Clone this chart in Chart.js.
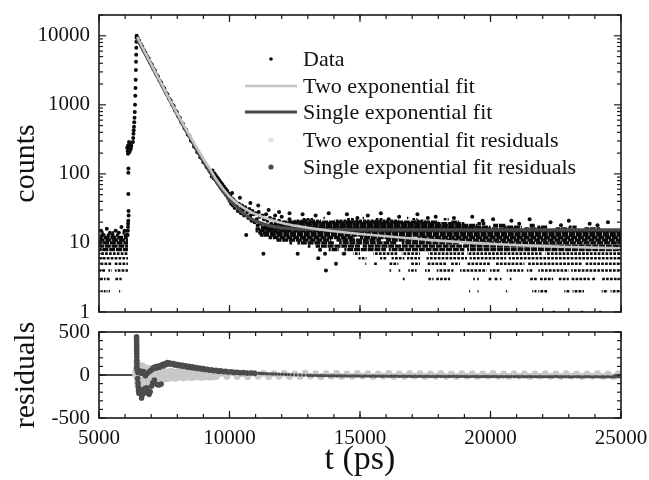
<!DOCTYPE html>
<html><head><meta charset="utf-8">
<script src="https://cdn.jsdelivr.net/npm/chart.js@4/dist/chart.umd.min.js"></script>
<style>
html,body{margin:0;padding:0;background:#fff;}
#wrap{position:relative;width:649px;height:480px;background:#fff;overflow:hidden;}
#top{position:absolute;left:0;top:0;}
#bot{position:absolute;left:0;top:316px;}
</style></head><body>
<div id="wrap"><canvas id="top" width="649" height="330"></canvas><canvas id="bot" width="649" height="164"></canvas></div>
<script>
// ---------- tick values / labels ----------
const timeTickValues = [5000, 10000, 15000, 20000, 25000];
const timeTickLabels = ['5000', '10000', '15000', '20000', '25000'];
const countTickValues = [1, 10, 100, 1000, 10000];
const countTickLabels = ['1', '10', '100', '1000', '10000'];
const residualTickValues = [-500, 0, 500];
const residualTickLabels = ['-500', '0', '500'];
const legendLabels = ['Data', 'Two exponential fit', 'Single exponential fit',
  'Two exponential fit residuals', 'Single exponential fit residuals'];

// ---------- measured data: [t (ps), counts] ----------
const risePoints = [[6100,13],[6105,15],[6110,17],[6115,19],[6120,21],[6124,51],[6124,104],[6126,120],[6130,29],[6135,25],
 [6080,240],[6100,215],[6110,195],[6120,260],[6140,230],[6150,290],[6160,205],[6180,250],[6190,220],[6200,275],[6220,235],[6240,255],
 [6300,290],[6310,330],[6320,380],[6330,430],[6340,480],[6350,560],[6360,650],[6370,790],[6380,1000],[6390,1350],[6398,1760],
 [6405,2300],[6412,3200],[6418,4200],[6424,5300],[6429,6700],[6434,8200],[6438,9350],[6442,10000]];
const decayPoints = [[6480,9300],[6540,8500],[6600,7550],[6660,6950],[6720,6180],[6780,5700],[6840,5050],[6900,4700],[6960,4120],
 [7020,3850],[7080,3380],[7140,3150],[7200,2760],[7260,2580],[7320,2260],[7380,2110],[7440,1850],[7500,1730],[7560,1510],[7620,1420],
 [7680,1240],[7740,1170],[7800,1010],[7860,960],[7920,830],[7980,785],[8040,680],[8100,645],[8160,555],[8220,530],[8280,455],[8340,432],
 [8400,372],[8460,356],[8520,302],[8580,292],[8640,250],[8700,240],[8760,207],[8820,199],[8880,174],[8940,170],[9000,148],[9060,144],
 [9120,126],[9180,122],[9240,108]];
const scatterPoints = [[5080,15],[5180,13],[5300,16],[5420,14],[5520,13],[5640,15],[5760,14],[5860,17],[5980,15],[6060,13],
 [9300,104],[9320,92],[9350,112],[9380,96],[9400,86],[9430,101],[9460,84],[9490,93],[9520,77],[9550,87],[9580,71],[9610,81],
 [9640,67],[9670,75],[9700,61],[9730,70],[9760,57],[9790,65],[9820,54],[9850,61],[9880,49],[9910,57],[9940,45],[9970,52],
 [10000,41],[10030,48],[10060,37],[10100,44],[10130,35],[10160,42],[10200,32],[10240,39],[10280,34],[10320,29],[10360,37],
 [10400,31],[10440,27],[10480,35],[10520,30],[10560,25],[10600,33],[10640,13],[10680,28],[10720,23],[10760,31],[10800,25],
 [10840,21],[10880,29],[10920,26],[10960,20],[11000,27],[11040,22],[11080,18],[11120,28],[11160,24],[11200,19],[11232,13],
 [11260,25],[11300,7],[11320,22],[11360,17],[11400,26],[11450,21],[11500,16],[11550,23],[11600,19],[11650,15],[11700,22],
 [11750,25],[11800,18],[11850,14],[11900,21],[11950,17],[12000,24],[12100,19],[12200,15],[12300,22],[12400,13],[12500,20],
 [12612,7],[12700,17],[12800,12],[12900,21],[13000,15],[13400,6],[13467,8],[13659,7],[13697,4],[14080,5],[14387,7],
 [10100,53],[10400,45],[10800,38],[11100,35],[11500,30],[11900,28],[12300,27],[12800,26],[13300,25],[13800,27],[14500,26],
 [15300,25],[15800,27],[16500,24],[17200,26],[17900,24],[18600,23],[19300,24],[20100,22],[20800,21],[21500,22],[22300,20],
 [23000,21],[23800,19],[24500,20],[14900,23],[16100,22],[17600,23],[19700,21],[21100,19],[22700,18],[24100,18]];
// quantised count levels and the time runs [start,end,...] where dots sit on that level
const rowLevels = [1,2,3,4,5,6,7,8,9,10,11,12,13,14,15,16,17,18,19,20,21,22,23];
const rowRuns = [
 [22380,22470, 23460,23550, 24160,24250],
 [5100,5250, 5290,5420, 5770,5860, 19180,19260, 19500,19580, 20590,20680, 21600,21760, 21830,22200, 22830,23060, 23140,23580, 24260,24500, 24600,24930],
 [5020,5250, 5280,5420, 5610,5870, 16620,16710, 17600,17820, 17900,18450, 19320,19400, 19470,19550, 19910,20050, 20140,20300, 20340,20420, 20720,20800, 21500,21800, 21880,22400, 22600,23000, 23090,23800, 23880,24020, 24260,24950],
 [5020,5230, 5360,5490, 5610,6110, 16130,16210, 16480,16570, 16850,17170, 17490,17680, 17940,18580, 18830,19850, 19980,20360, 20620,21260, 21390,21640, 21830,23000, 23090,25000],
 [5020,5480, 5560,6110, 15160,15240, 15500,15650, 16090,16470, 16920,17300, 17550,18320, 18450,18830, 19080,20000, 20170,21300, 21400,23500, 23600,25000],
 [5020,6110, 14940,15250, 15770,16020, 16210,16700, 16800,17300, 17550,19100, 19200,20600, 20700,25000],
 [5020,6110, 14300,14490, 14740,15000, 15510,16470, 16600,17300, 17620,19000, 19100,22000, 22100,25000],
 [5020,6110, 13440,13520, 13800,14200, 14400,16000, 16100,19000, 19100,25000],
 [5020,6110, 13000,13100, 13300,15000, 15100,25000],
 [5020,6110, 12300,12400, 12600,14000, 14200,16400, 16600,18800, 19000,25000],
 [5020,6110, 11800,13900, 14100,15800, 16000,17600, 17800,25000],
 [5020,6100, 11500,14800, 15000,17000, 17200,25000],
 [5050,5200, 5300,5420, 5650,5760, 5950,6060, 11300,25000],
 [5100,5180, 5500,5580, 5900,5980, 11100,25000],
 [6000,6080, 11000,25000],
 [11000,21000, 21300,22000, 22500,23000, 23600,24200],
 [11200,20000, 20500,21200, 21800,22200, 23000,23300],
 [11400,19500, 20100,20600, 21500,21700],
 [11700,19000, 19500,19800],
 [12000,18000, 18500,18800],
 [12500,13500, 14000,16500, 17100,17500],
 [12800,13200, 14500,14800, 15600,15900, 17000,17200, 18200,18400],
 [13600,13700, 15100,15200, 16800,16900]
];
// fitted curves [t, counts]
const twoFitPoints = [[6460,9600],[6600,7600],[6800,5400],[7000,3900],[7200,2780],[7400,1990],[7600,1420],[7800,1020],[8000,740],
 [8250,505],[8500,345],[8750,238],[9000,166],[9250,118],[9500,82],[9750,61],[10000,47],[10250,38.5],[10500,33],[10750,29],
 [11000,26],[11500,22],[12000,19.5],[12500,17.8],[13000,16.6],[13500,15.6],[14000,14.8],[15000,13.5],[16000,12.5],[17000,11.6],
 [18000,10.8],[19000,10.2],[20000,9.7],[21000,9.3],[22000,9.0],[23000,8.75],[24000,8.55],[25000,8.4]];
const singleFitPoints = [[6460,9000],[6600,7160],[6800,5170],[7000,3720],[7200,2700],[7400,1935],[7600,1390],[7800,1000],[8000,720],
 [8250,483],[8500,326],[8750,221],[9000,152],[9250,106],[9500,76],[9750,55.5],[10000,42.3],[10250,33.3],[10500,27.3],[10750,23.3],
 [11000,20.7],[11500,17.8],[12000,16.5],[12500,15.95],[13000,15.7],[14000,15.55],[16000,15.5],[20000,15.5],[25000,15.5]];
// residuals [t, residual]
const singleResidualPoints = [[6440,445],[6440,415],[6442,385],[6443,350],[6444,318],[6445,285],[6446,250],[6448,212],[6450,172],[6451,132],[6453,96],[6455,60],
 [6480,-40],[6495,-95],[6505,-140],[6515,-185],[6530,-212],[6560,-170],[6600,-200],[6630,-268],[6660,-230],[6700,-190],[6740,-160],
 [6780,-205],[6820,-150],[6870,-180],[6920,-225],[6960,-195],[7010,-130],[7060,-90],[7120,-60],[7220,-110],[7300,-116],[7380,-105],
 [6490,30],[6560,50],[6620,20],[6700,40],[6780,-10],[6850,20],[6930,40],[7000,55],
 [7050,70],[7080,85],[7150,95],[7200,80],[7270,105],[7320,90],[7400,120],[7450,105],[7500,130],[7560,118],[7620,145],[7660,128],
 [7720,140],[7780,125],[7850,132],[7900,115],[7960,125],[8020,110],[8080,120],[8140,104],[8200,112],[8260,98],[8320,108],[8390,92],
 [8450,100],[8520,88],[8580,95],[8650,82],[8720,88],[8790,75],[8860,80],[8930,70],[9000,74],[9080,62],[9150,67],[9230,56],[9310,60],
 [9400,50],[9480,54],[9570,45],[9660,48],[9750,40],[9850,42],[9950,35],[10060,37],[10170,30],[10290,32],[10410,26],[10540,28],
 [10680,22],[10820,24],[10970,19],[11130,20],[11220,18],[11300,16],[11390,15],[11480,15],[11580,13],[11680,12],[11790,11],[11900,10],
 [12020,8],[12150,6],[12270,5],[12400,4],[12550,2],[12700,0],[12850,-2],[13000,-4],
 [13100,-5],[13200,-7],[13300,-4],[13400,-8],[13500,-6],[13600,-9],[13700,-7],[13800,-10],[13900,-8],[14000,-9],[14100,-11],[14200,-9],
 [14300,-12],[14400,-10],[14500,-11],[14600,-13],[14700,-10],[14800,-12],[14900,-11],[15000,-13],[15100,-14],[15200,-12],[15300,-13],
 [15400,-15],[15500,-12],[15600,-14],[15700,-13],[15800,-15],[15900,-14],[16000,-13],[16100,-16],[16200,-14],[16300,-15],[16400,-13],
 [16500,-16],[16600,-15],[16700,-14],[16800,-16],[16900,-15],[17000,-17],[17100,-14],[17200,-16],[17300,-15],[17400,-17],[17500,-16],
 [17600,-15],[17700,-17],[17800,-16],[17900,-18],[18000,-15],[18100,-17],[18200,-16],[18300,-18],[18400,-16],[18500,-17],[18600,-15],
 [18700,-18],[18800,-17],[18900,-16],[19000,-18],[19100,-17],[19200,-19],[19300,-16],[19400,-18],[19500,-17],[19600,-19],[19700,-17],
 [19800,-18],[19900,-16],[20000,-19],[20100,-18],[20200,-17],[20300,-19],[20400,-18],[20500,-20],[20600,-17],[20700,-19],[20800,-18],
 [20900,-20],[21000,-18],[21100,-19],[21200,-17],[21300,-20],[21400,-19],[21500,-18],[21600,-20],[21700,-19],[21800,-21],[21900,-18],
 [22000,-20],[22100,-19],[22200,-21],[22300,-19],[22400,-20],[22500,-18],[22600,-21],[22700,-20],[22800,-19],[22900,-21],[23000,-20],
 [23100,-22],[23200,-19],[23300,-21],[23400,-20],[23500,-22],[23600,-20],[23700,-21],[23800,-19],[23900,-22],[24000,-21],[24100,-20],
 [24200,-22],[24300,-21],[24400,-23],[24500,-20],[24600,-22],[24700,-21],[24800,-22],[24900,-20],[25000,-22]];
const twoResidualPoints = [[6400,10],[6420,40],[6430,80],[6445,150],[6450,60],[6458,-30],[6465,110],[6472,-80],[6480,20],[6490,-120],
 [6500,80],[6515,-50],[6530,100],[6545,-130],[6560,40],[6580,-90],[6600,70],[6620,-40],[6640,110],[6660,-110],[6680,30],[6700,-70],
 [6720,90],[6745,-20],[6770,60],[6790,-100],[6815,40],[6840,-60],[6865,80],[6890,-30],[6915,50],[6940,-80],[6965,20],[6990,70],
 [7020,-50],[7050,40],[7080,-70],[7110,60],[7140,-30],[7170,50],[7200,-60],[7240,30],[7280,-40],[7320,55],[7360,-25],[7400,45],
 [7440,-50],[7480,35],[7520,-30],[7560,40],[7600,-45],[7650,30],[7700,-35],[7750,45],[7800,-25],[7850,35],[7900,-40],[7950,30],
 [8000,-30],[8060,40],[8120,-25],[8180,30],[8240,-35],[8300,28],[8360,-22],[8420,35],[8480,-28],[8540,25],[8600,-30],[8660,32],
 [8720,-20],[8780,28],[8840,-25],[8900,22],[8960,-28],[9020,30],[9080,-18],[9150,25],[9220,-25],[9290,20],[9360,-22],[9430,28],
 [9500,-18],[9600,22],[9700,20],[9900,-16],[10100,24],[10300,-18],[10500,15],[10700,-20],[10900,22],[11100,-14],[11300,18],
 [11500,-20],[11700,16],[11900,-15],[12100,20],[12300,-18],[12500,14],[12700,-16],[12900,21],[13100,-13],[13300,17],[13500,-19],
 [13700,15],[13900,-14],[14100,19],[14300,-17],[14500,13],[14700,-15],[14900,20],[15100,-12],[15300,16],[15500,-18],[15700,14],
 [15900,-13],[16100,18],[16300,-16],[16500,12],[16700,-15],[16900,19],[17100,-12],[17300,15],[17500,-17],[17700,13],[17900,-14],
 [18100,18],[18300,-15],[18500,12],[18700,-16],[18900,17],[19100,-12],[19300,15],[19500,-17],[19700,13],[19900,-13],[20100,18],
 [20300,-15],[20500,12],[20700,-16],[20900,17],[21100,-12],[21300,14],[21500,-17],[21700,13],[21900,-13],[22100,17],[22300,-15],
 [22500,12],[22700,-16],[22900,16],[23100,-12],[23300,14],[23500,-16],[23700,13],[23900,-13],[24100,17],[24300,-15],[24500,12],
 [24700,-16],[24900,15]];
const zeroResidualPoints = [[5000,0],[6440,0]];

// ---------- styles ----------
const FONT = "'Liberation Serif','Times New Roman',serif";
const TEXT = '#111';
const DATA_COLOR = '#0b0b0b';
const TWO_COLOR = '#c4c4c4';
const SINGLE_COLOR = '#4a4a4a';
const TWO_RES_COLOR = '#c8c8c8';
const SINGLE_RES_COLOR = '#4c4c4c';

const toXY = arr => arr.map(p => ({x: p[0], y: p[1]}));

function rowDatasets() {
  return rowLevels.map((lvl, i) => {
    const runs = rowRuns[i], d = [];
    for (let k = 0; k < runs.length; k += 2) {
      d.push({x: runs[k], y: lvl}, {x: runs[k + 1], y: lvl}, {x: runs[k + 1], y: null});
    }
    const dense = lvl >= 8 && lvl <= 20;
    return {label: 'level ' + lvl, data: d, showLine: true, pointRadius: 0, borderColor: DATA_COLOR,
      borderWidth: dense ? 3.3 : 2.6, borderDash: dense ? [6, 0.8] : [2.7, 1.2], borderDashOffset: (i * 1.7) % 4,
      spanGaps: false, borderCapStyle: 'butt'};
  });
}

const framePlugin = {
  id: 'frame',
  afterDatasetsDraw(chart, args, o) {
    const {ctx, chartArea: a} = chart;
    const xs = chart.scales.x, ys = chart.scales.y;
    ctx.save();
    ctx.strokeStyle = '#1a1a1a';
    const line = (x1, y1, x2, y2) => { ctx.beginPath(); ctx.moveTo(x1, y1); ctx.lineTo(x2, y2); ctx.stroke(); };
    ctx.lineWidth = 1.2;
    const xt = (v, len) => { const p = xs.getPixelForValue(v); line(p, a.bottom, p, a.bottom - len); line(p, a.top, p, a.top + len); };
    const yt = (v, len) => { const p = ys.getPixelForValue(v); line(a.left, p, a.left + len, p); line(a.right, p, a.right - len, p); };
    o.xMinor.forEach(v => xt(v, 4)); o.xMajor.forEach(v => xt(v, 7));
    o.yMinor.forEach(v => yt(v, 4)); o.yMajor.forEach(v => yt(v, 7));
    ctx.lineWidth = 1.6;
    ctx.strokeRect(a.left, a.top, a.right - a.left, a.bottom - a.top);
    ctx.restore();
  }
};

const legendPlugin = {
  id: 'fitLegend',
  afterDraw(chart, args, o) {
    const ctx = chart.ctx;
    ctx.save();
    ctx.font = o.fontSize + 'px ' + FONT;
    ctx.textBaseline = 'middle';
    legendLabels.forEach((txt, i) => {
      const y = o.rowY[i], s = o.symbols[i];
      if (s.type === 'line') {
        ctx.strokeStyle = s.color; ctx.lineWidth = s.width;
        ctx.beginPath(); ctx.moveTo(o.lineX0, y); ctx.lineTo(o.lineX1, y); ctx.stroke();
      } else {
        ctx.fillStyle = s.color; ctx.beginPath(); ctx.arc(o.symbolX, y, s.r, 0, Math.PI * 2); ctx.fill();
      }
      ctx.fillStyle = TEXT;
      ctx.fillText(txt, o.textX, y + 1);
    });
    ctx.restore();
  }
};

const xMinorTicks = []; for (let t = 5000; t <= 25000; t += 1000) xMinorTicks.push(t);
const countMinorTicks = []; countTickValues.forEach(d => { for (let k = 2; k <= 9; k++) if (d * k <= 20000) countMinorTicks.push(d * k); });
const resMinorTicks = []; for (let r = -500; r <= 500; r += 100) resMinorTicks.push(r);

const tickFont = {family: FONT, size: 21};
const titleFont = {family: FONT, size: 30};
const hiddenGrid = len => ({display: false, drawTicks: true, tickLength: len});

new Chart(document.getElementById('top'), {
  type: 'scatter',
  data: {datasets: [
    {label: legendLabels[1], data: toXY(twoFitPoints), showLine: true, borderColor: TWO_COLOR, borderWidth: 2.6, pointRadius: 0, tension: 0},
    {label: legendLabels[2], data: toXY(singleFitPoints), showLine: true, borderColor: SINGLE_COLOR, borderWidth: 3.2, pointRadius: 0, tension: 0},
    {label: legendLabels[0], data: toXY(risePoints.concat(decayPoints, scatterPoints)), pointRadius: 2, backgroundColor: DATA_COLOR, borderWidth: 0},
    ...rowDatasets()
  ]},
  options: {
    responsive: false, animation: false, events: [],
    layout: {autoPadding: false, padding: {left: 0, right: 28, top: 15, bottom: 18}},
    plugins: {
      legend: {display: false}, tooltip: {enabled: false},
      frame: {xMajor: timeTickValues, xMinor: xMinorTicks, yMajor: countTickValues, yMinor: countMinorTicks},
      fitLegend: {fontSize: 22, textX: 303, symbolX: 271, lineX0: 245, lineX1: 297, rowY: [59, 86, 112, 140, 167],
        symbols: [{type: 'dot', color: DATA_COLOR, r: 1.8}, {type: 'line', color: TWO_COLOR, width: 2.6},
          {type: 'line', color: SINGLE_COLOR, width: 3.2}, {type: 'dot', color: '#e2e2e2', r: 2.6},
          {type: 'dot', color: SINGLE_RES_COLOR, r: 2.6}]}
    },
    scales: {
      x: {type: 'linear', min: 5000, max: 25000, display: false},
      y: {type: 'logarithmic', min: 1, max: 20000,
        afterBuildTicks: s => { s.ticks = countTickValues.map(v => ({value: v})); },
        afterFit: s => { s.width = 99; },
        grid: hiddenGrid(9), border: {display: false},
        ticks: {padding: 0, color: TEXT, font: tickFont, autoSkip: false, callback: (v, i) => countTickLabels[i]},
        title: {display: true, text: 'counts', color: TEXT, font: titleFont, padding: {top: 8, bottom: 0}}}
    }
  },
  plugins: [framePlugin, legendPlugin]
});

new Chart(document.getElementById('bot'), {
  type: 'scatter',
  data: {datasets: [
    {label: legendLabels[4], data: toXY(singleResidualPoints), backgroundColor: SINGLE_RES_COLOR, borderWidth: 0,
      pointRadius: c => (c.raw && c.raw.x > 11000) ? 1.7 : 2.8},
    {label: legendLabels[3], data: toXY(twoResidualPoints), pointRadius: 3.4, backgroundColor: TWO_RES_COLOR, borderWidth: 0},
    {label: 'zero', data: toXY(zeroResidualPoints), showLine: true, borderColor: '#111', borderWidth: 1.5, pointRadius: 0}
  ]},
  options: {
    responsive: false, animation: false, events: [],
    layout: {autoPadding: false, padding: {left: 0, right: 28, top: 16, bottom: 0}},
    plugins: {
      legend: {display: false}, tooltip: {enabled: false},
      frame: {xMajor: timeTickValues, xMinor: xMinorTicks, yMajor: residualTickValues, yMinor: resMinorTicks}
    },
    scales: {
      x: {type: 'linear', min: 5000, max: 25000,
        afterBuildTicks: s => { s.ticks = timeTickValues.map(v => ({value: v})); },
        afterFit: s => { s.height = 62; },
        grid: hiddenGrid(8), border: {display: false},
        ticks: {padding: 0, color: TEXT, font: tickFont, autoSkip: false, maxRotation: 0, callback: (v, i) => timeTickLabels[i]},
        title: {display: true, text: 't (ps)', color: TEXT, font: {family: FONT, size: 34}, padding: {top: 0, bottom: 0}}},
      y: {type: 'linear', min: -500, max: 500,
        afterBuildTicks: s => { s.ticks = residualTickValues.map(v => ({value: v})); },
        afterFit: s => { s.width = 99; },
        grid: hiddenGrid(9), border: {display: false},
        ticks: {padding: 0, color: TEXT, font: tickFont, autoSkip: false, callback: (v, i) => residualTickLabels[i]},
        title: {display: true, text: 'residuals', color: TEXT, font: titleFont, padding: {top: 8, bottom: 0}}}
    }
  },
  plugins: [framePlugin]
});
</script></body></html>
